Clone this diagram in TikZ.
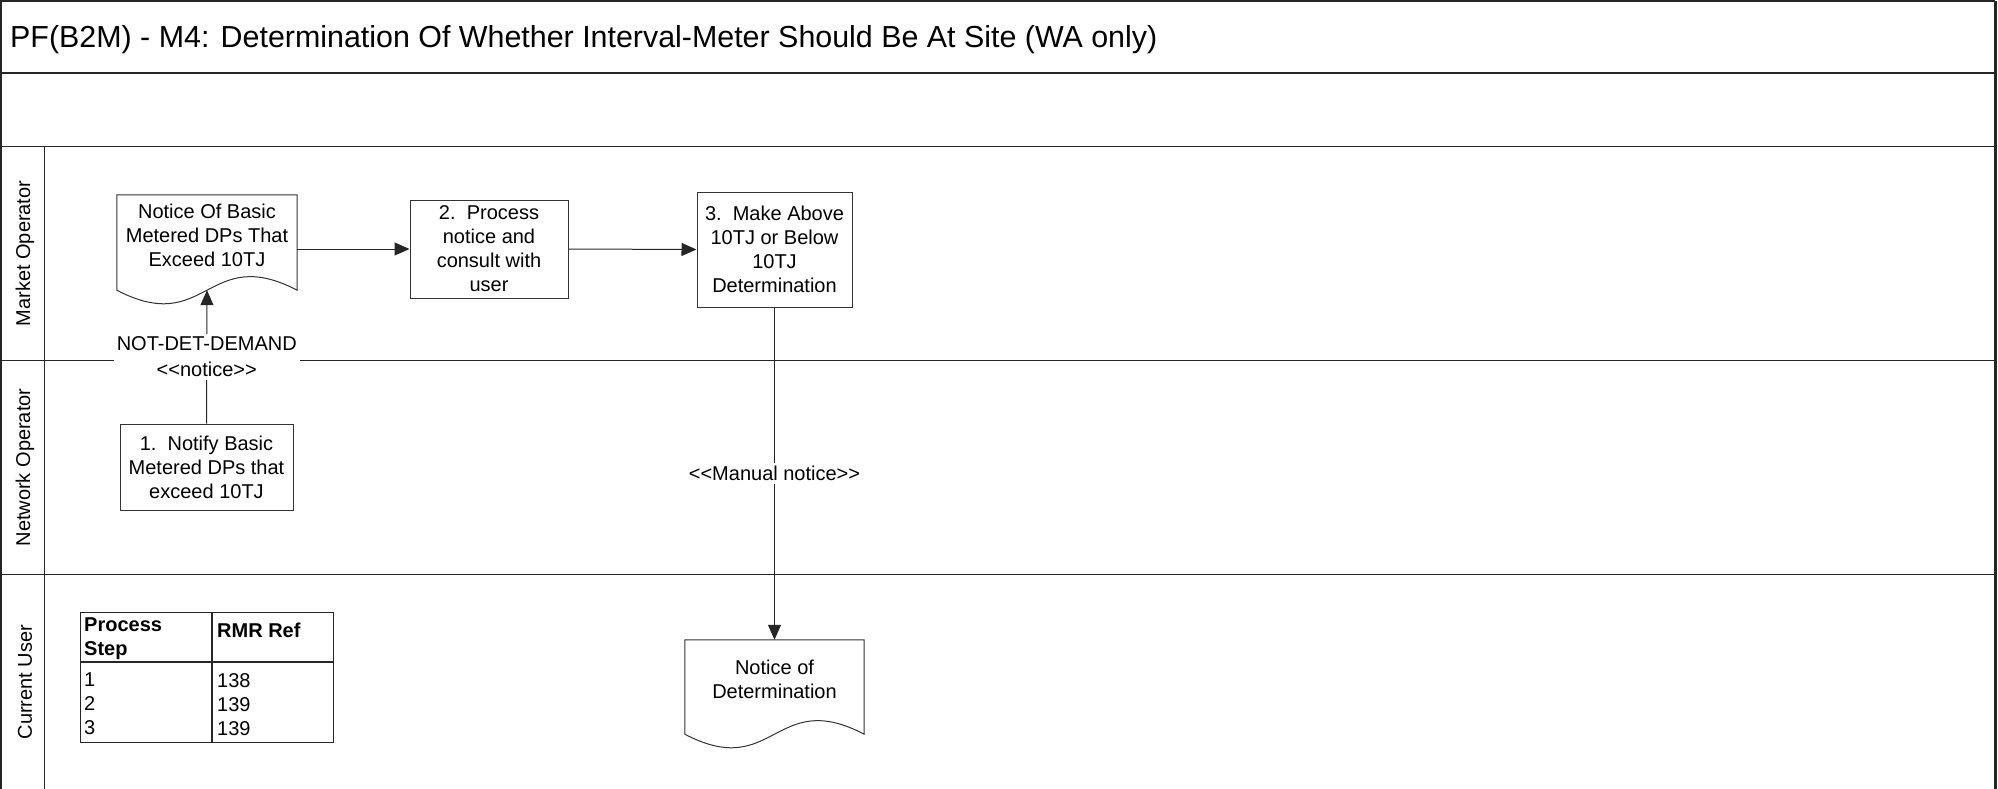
\documentclass[tikz,border=0pt]{standalone}
\usepackage{fontspec}
\setmainfont{Liberation Sans}
\usetikzlibrary{arrows.meta,calc}
\begin{document}
\begin{tikzpicture}[x=1pt,y=1pt,
  frameline/.style={line width=1.3pt, draw=black!85},
  laneline/.style={line width=1.1pt, draw=black!85},
  proc/.style={draw=black!80, line width=1pt, fill=white, align=center,
    font=\fontsize{20}{24}\selectfont, inner sep=0pt},
  docbody/.style={inner sep=0pt, minimum width=180pt, minimum height=95pt},
  docline/.style={draw=black!80, line width=1pt},
  txt/.style={font=\fontsize{20}{24}\selectfont, align=center, inner sep=0pt},
  lanetxt/.style={font=\fontsize{20}{24}\selectfont, rotate=90, inner sep=0pt},
  flow/.style={line width=1pt, draw=black!85, -{Triangle[length=15pt,width=13pt]}},
  lbl/.style={fill=white, font=\fontsize{20}{26}\selectfont, align=center, inner sep=3pt},
  cell/.style={draw=black!85, line width=1pt, inner sep=0pt, anchor=north west},
  celltxt/.style={font=\fontsize{20}{24}\selectfont, align=left, inner sep=0pt, anchor=north west}
]
\useasboundingbox (0,0) rectangle (1998,-789);

% frame and lanes
\draw[frameline] (1,-789) -- (1,-1) -- (1995,-1);
\draw[line width=2.6pt, draw=black!85] (1995.5,-1) -- (1995.5,-789);
\draw[frameline] (1,-73) -- (1995,-73);
\draw[frameline] (1,-146.5) -- (1995,-146.5);
\draw[laneline] (1,-360.5) -- (1995,-360.5);
\draw[laneline] (1,-574.5) -- (1995,-574.5);
\draw[laneline] (44.5,-146.5) -- (44.5,-789);

\node[font=\fontsize{30.4}{36}\selectfont, anchor=west, inner sep=0pt] (title) at (10,-39.5) {PF(B2M) - M4: Determination Of Whether Interval-Meter Should Be At Site (WA only)};

\node[lanetxt] (laneMO) at (25,-253.5) {Market Operator};
\node[lanetxt] (laneNO) at (25,-467.5) {Network Operator};
\node[lanetxt] (laneCU) at (25,-682) {Current User};

% document 1
\node[docbody] (doc1) at (207,-242.5) {};
\draw[docline, fill=white] (doc1.north west) -- (doc1.north east) -- (doc1.south east)
  .. controls ($(doc1.south)+(0,47)$) and ($(doc1.south)+(0,-47)$) .. (doc1.south west) -- cycle;
\node[txt] (doc1t) at ($(doc1.center)+(0,7)$) {Notice Of Basic\\Metered DPs That\\Exceed 10TJ};

% process boxes
\node[proc, minimum width=158pt, minimum height=98pt] (box2) at (489,-249) {2.\ \ Process\\notice and\\consult with\\user};
\node[proc, minimum width=155pt, minimum height=115pt] (box3) at (774.5,-249.5) {3.\ \ Make Above\\10TJ or Below\\10TJ\\Determination};
\node[proc, minimum width=173pt, minimum height=86pt] (box1) at (206.5,-467) {1.\ \ Notify Basic\\Metered DPs that\\exceed 10TJ};

% document 2
\node[docbody, minimum width=179pt, minimum height=94pt] (doc2) at (774.5,-687) {};
\draw[docline, fill=white] (doc2.north west) -- (doc2.north east) -- (doc2.south east)
  .. controls ($(doc2.south)+(0,47)$) and ($(doc2.south)+(0,-47)$) .. (doc2.south west) -- cycle;
\node[txt] (doc2t) at ($(doc2.center)+(0,7.5)$) {Notice of\\Determination};

% connectors
\draw[flow] (box2.west -| doc1.east) -- (box2.west);
\draw[flow] (box2.east) -- (box3.west);
\draw[flow] (box1.north) -- (doc1.south) node[lbl, midway] (lblA) {NOT-DET-DEMAND\\<{}<notice>{}>};
\draw[flow] (box3.south) -- (doc2.north) node[lbl, midway] (lblB) {<{}<Manual notice>{}>};

% table
\node[cell, minimum width=131pt, minimum height=49pt] (th1) at (80,-612) {};
\node[cell, minimum width=121pt, minimum height=49pt] (th2) at (th1.north east) {};
\node[cell, minimum width=131pt, minimum height=80pt] (tb1) at (th1.south west) {};
\node[cell, minimum width=121pt, minimum height=80pt] (tb2) at (th1.south east) {};
\node[celltxt, font=\fontsize{20}{24}\selectfont\bfseries] (th1t) at ($(th1.north west)+(4,-6)$) {Process\\Step};
\node[celltxt, font=\fontsize{20}{24}\selectfont\bfseries] (th2t) at ($(th2.north west)+(5,-11)$) {RMR Ref};
\node[celltxt] (tb1t) at ($(tb1.north west)+(4,-11)$) {1\\2\\3};
\node[celltxt] (tb2t) at ($(tb2.north west)+(5,-11)$) {138\\139\\139};
\end{tikzpicture}
\end{document}
